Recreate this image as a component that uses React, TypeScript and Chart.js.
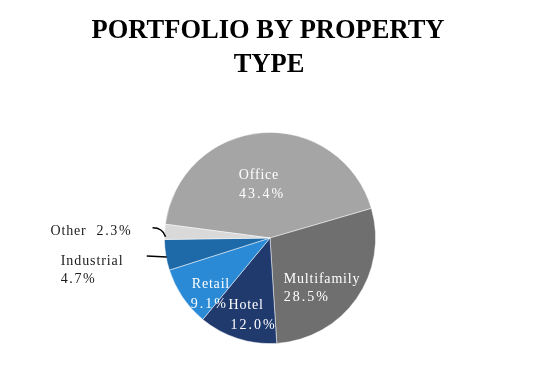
import React, { useEffect, useRef } from "react";
import { Chart, registerables } from "chart.js";

Chart.register(...registerables);

const titleLines = ["PORTFOLIO BY PROPERTY", "TYPE"];
const categories = ["Office", "Multifamily", "Hotel", "Retail", "Industrial", "Other"];
const values = [43.4, 28.5, 12.0, 9.1, 4.7, 2.3];
const valueLabels = ["43.4%", "28.5%", "12.0%", "9.1%", "4.7%", "2.3%"];
const colors = ["#a5a5a5", "#6f6f6f", "#213a6e", "#2a8ad6", "#1e6aa8", "#d9d9d9"];

// label placement: radius factor along mid-angle + pixel offsets
const labelCfg = [
  { k: 0.5, dx: -8, dy: -4, inside: true, align: "center" },
  { k: 0.68, dx: -7, dy: 6, inside: true, align: "left" },
  { k: 0.72, dx: -12, dy: 0, inside: true, align: "hotel" },
  { k: 0.7, dx: 9, dy: 13, inside: true, align: "retail" },
  { k: 1, dx: 0, dy: 0, inside: false, align: "left" },
  { k: 1, dx: 0, dy: 0, inside: false, align: "left" },
];

const FONT = "14px 'Liberation Serif', 'Times New Roman', serif";

function text(ctx: CanvasRenderingContext2D, s: string, x: number, y: number, spacing: number) {
  (ctx as any).letterSpacing = spacing + "px";
  ctx.fillText(s, x, y);
}

const labelPlugin = {
  id: "customLabels",
  afterDraw(chart: any) {
    const ctx = chart.ctx as CanvasRenderingContext2D;
    const W = chart.width;
    ctx.save();
    ctx.fillStyle = "#000000";
    ctx.font = "bold 26.5px 'Liberation Serif', 'Times New Roman', serif";
    ctx.textAlign = "center";
    ctx.textBaseline = "alphabetic";
    ctx.fillText(titleLines[0], W / 2 - 2, 38);
    ctx.fillText(titleLines[1], W / 2 - 1, 72);
    ctx.restore();

    const meta = chart.getDatasetMeta(0);
    ctx.save();
    ctx.font = FONT;
    ctx.textBaseline = "alphabetic";
    meta.data.forEach((arc: any, i: number) => {
      const p = arc.getProps(["x", "y", "startAngle", "endAngle", "outerRadius"], true);
      const mid = (p.startAngle + p.endAngle) / 2;
      const cfg = labelCfg[i];
      const cx = p.x + Math.cos(mid) * p.outerRadius * cfg.k + cfg.dx;
      const cy = p.y + Math.sin(mid) * p.outerRadius * cfg.k + cfg.dy;
      if (cfg.inside) {
        ctx.fillStyle = "#ffffff";
        if (cfg.align === "center") {
          ctx.textAlign = "center";
          text(ctx, categories[i], cx + 1, cy - 2, 0.8);
          text(ctx, valueLabels[i], cx + 4, cy + 17, 2);
        } else if (cfg.align === "left") {
          ctx.textAlign = "left";
          text(ctx, categories[i], cx - 38, cy - 2, 0.8);
          text(ctx, valueLabels[i], cx - 38, cy + 16, 2);
        } else if (cfg.align === "hotel") {
          ctx.textAlign = "left";
          text(ctx, categories[i], cx - 6, cy - 1, 0.8);
          text(ctx, valueLabels[i], cx - 4, cy + 19, 2);
        } else {
          ctx.textAlign = "left";
          text(ctx, categories[i], cx - 26, cy - 4, 0.8);
          text(ctx, valueLabels[i], cx - 27, cy + 16, 2);
        }
      } else {
        const ex = p.x + Math.cos(mid) * p.outerRadius;
        const ey = p.y + Math.sin(mid) * p.outerRadius;
        ctx.strokeStyle = "#000000";
        ctx.lineWidth = 1.5;
        ctx.fillStyle = "#1a1a1a";
        ctx.textAlign = "left";
        if (categories[i] === "Other") {
          ctx.beginPath();
          ctx.moveTo(ex - 12, ey - 4);
          ctx.quadraticCurveTo(ex - 2, ey - 4, ex + 1, ey + 5);
          ctx.stroke();
          text(ctx, categories[i], ex - 114, ey + 3, 0.8);
          text(ctx, valueLabels[i], ex - 68, ey + 3, 1.6);
        } else {
          ctx.beginPath();
          ctx.moveTo(ex - 19, ey + 1);
          ctx.lineTo(ex + 1, ey + 2);
          ctx.stroke();
          text(ctx, categories[i], ex - 105, ey + 10, 0.9);
          text(ctx, valueLabels[i], ex - 105, ey + 28, 1.6);
        }
      }
    });
    ctx.restore();
  },
};

export default function App() {
  const ref = useRef<HTMLCanvasElement | null>(null);
  useEffect(() => {
    if (!ref.current) return;
    const chart = new Chart(ref.current, {
      type: "pie",
      data: {
        labels: categories,
        datasets: [
          {
            data: values,
            backgroundColor: colors,
            borderColor: "rgba(255,255,255,0.6)",
            borderWidth: 0.8,
            clip: false,
          } as any,
        ],
      },
      options: {
        animation: false,
        responsive: false,
        rotation: -82.5,
        layout: { padding: { left: 164, right: 164, top: 132, bottom: 40 } },
        plugins: {
          legend: { display: false },
          tooltip: { enabled: false },
          title: { display: false },
        },
      },
      plugins: [labelPlugin],
    });
    return () => chart.destroy();
  }, []);
  return (
    <div style={{ position: "fixed", left: 0, top: 0, width: 540, height: 384, background: "#ffffff" }}>
      <canvas ref={ref} width={540} height={384} style={{ width: 540, height: 384 }} />
    </div>
  );
}
